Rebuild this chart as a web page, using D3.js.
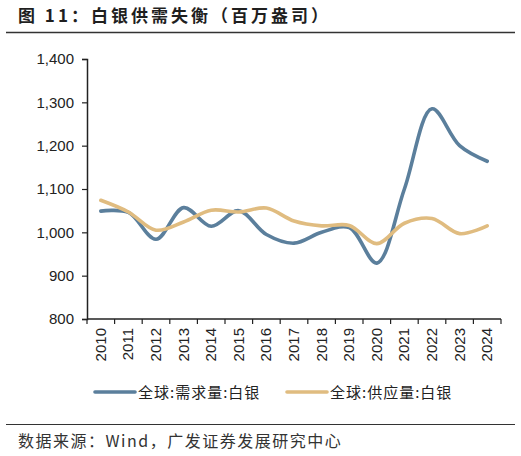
<!DOCTYPE html>
<html>
<head>
<meta charset="utf-8">
<script src="https://cdn.jsdelivr.net/npm/d3@7"></script>
<style>
  body { margin: 0; background: #fff; }
  svg { display: block; font-family: "Liberation Sans", Arial, sans-serif; }
</style>
</head>
<body>
<svg id="chart"></svg>
<script>
// values (百万盎司)
const years = ['2010', '2011', '2012', '2013', '2014', '2015', '2016', '2017',
  '2018', '2019', '2020', '2021', '2022', '2023', '2024'];
const demand = [1049, 1046, 984, 1057, 1014, 1050, 995, 975, 1000, 1011, 929, 1100, 1285, 1200, 1164];
const supply = [1074, 1047, 1005, 1024, 1051, 1047, 1056, 1026, 1015, 1016, 974, 1021, 1032, 997, 1015];
const yTicks = [800, 900, 1000, 1100, 1200, 1300, 1400];
const seriesNames = ['全球:需求量:白银', '全球:供应量:白银'];
const seriesColors = ['#5b7f9c', '#e0bc80'];

const W = 521, H = 456;
const margin = {top: 59, right: 20, bottom: 137, left: 87};
const width = W - margin.left - margin.right;
const height = H - margin.top - margin.bottom;

const svg = d3.select('#chart')
  .attr('width', W)
  .attr('height', H);

// title and rules
svg.append('text')
  .attr('x', 18).attr('y', 22)
  .attr('font-family', '"Noto Sans CJK SC", sans-serif')
  .attr('font-size', 17).attr('font-weight', 'bold')
  .attr('letter-spacing', 3)
  .attr('fill', '#1f1f1f')
  .text('图 11：白银供需失衡（百万盎司）');

svg.append('line')
  .attr('x1', 6).attr('x2', 515).attr('y1', 32.5).attr('y2', 32.5)
  .attr('stroke', '#333').attr('stroke-width', 1.5);

svg.append('line')
  .attr('x1', 6).attr('x2', 515).attr('y1', 424.5).attr('y2', 424.5)
  .attr('stroke', '#333').attr('stroke-width', 1.2);

svg.append('text')
  .attr('x', 18).attr('y', 447)
  .attr('font-family', '"Noto Sans CJK SC", sans-serif')
  .attr('font-size', 16)
  .attr('letter-spacing', 1.5)
  .attr('fill', '#333')
  .text('数据来源：Wind，广发证券发展研究中心');

const chart = svg.append('g')
  .attr('transform', `translate(${margin.left},${margin.top})`);

// scales
const x = d3.scaleBand().domain(years).range([0, width]);
const y = d3.scaleLinear().domain([800, 1400]).range([height, 0]);

// axes
const yAxis = d3.axisLeft(y).tickValues(yTicks).tickSize(5).tickPadding(8)
  .tickFormat(d3.format(','));
const yAxisG = chart.append('g').call(yAxis);
yAxisG.select('.domain').attr('stroke', '#222').attr('stroke-width', 1.5);
yAxisG.selectAll('.tick line').attr('stroke', '#222').attr('stroke-width', 1.2);
yAxisG.selectAll('text')
  .attr('font-size', 15).attr('fill', '#222')
  .attr('font-family', '"Liberation Sans", Arial, sans-serif');

const xAxisG = chart.append('g')
  .attr('transform', `translate(0,${height})`);
xAxisG.append('line')
  .attr('x1', 0).attr('x2', width)
  .attr('stroke', '#222').attr('stroke-width', 1.5);
xAxisG.selectAll('.xtick')
  .data(years.concat(['end']))
  .join('line')
  .attr('class', 'xtick')
  .attr('x1', (d, i) => i * x.step())
  .attr('x2', (d, i) => i * x.step())
  .attr('y1', 0).attr('y2', 5)
  .attr('stroke', '#222').attr('stroke-width', 1.2);
xAxisG.selectAll('.xlabel')
  .data(years)
  .join('text')
  .attr('class', 'xlabel')
  .attr('transform', d => `translate(${x(d) + x.bandwidth() / 2 + 5},9) rotate(-90)`)
  .attr('text-anchor', 'end')
  .attr('font-size', 15)
  .attr('fill', '#222')
  .text(d => d);

// lines
const line = d3.line()
  .x((d, i) => x(years[i]) + x.bandwidth() / 2)
  .y(d => y(d))
  .curve(d3.curveCatmullRom.alpha(0.5));

[demand, supply].forEach((s, k) => {
  chart.append('path')
    .datum(s)
    .attr('fill', 'none')
    .attr('stroke', seriesColors[k])
    .attr('stroke-width', 3.6)
    .attr('stroke-linecap', 'round')
    .attr('d', line);
});

// legend
const legend = svg.append('g');
const legendX = [95, 287];
seriesNames.forEach((name, k) => {
  legend.append('line')
    .attr('x1', legendX[k]).attr('x2', legendX[k] + 40)
    .attr('y1', 392).attr('y2', 392)
    .attr('stroke', seriesColors[k]).attr('stroke-width', 3.6)
    .attr('stroke-linecap', 'round');
  legend.append('text')
    .attr('x', legendX[k] + 43).attr('y', 397.5)
    .attr('font-family', '"Noto Sans CJK SC", sans-serif')
    .attr('font-size', 15)
    .attr('letter-spacing', 1)
    .attr('fill', '#222')
    .text(name);
});
</script>
</body>
</html>
